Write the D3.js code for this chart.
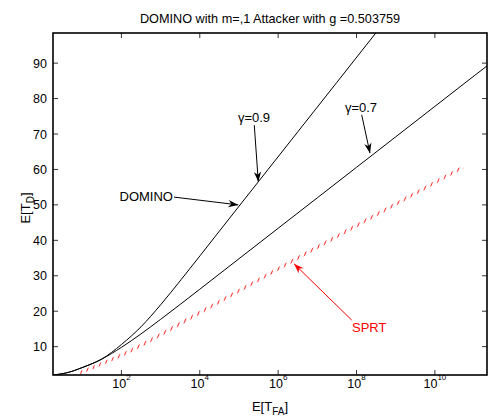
<!DOCTYPE html>
<html>
<head>
<meta charset="utf-8">
<script src="https://cdn.jsdelivr.net/npm/d3@7"></script>
<style>
  body { margin: 0; background: #fff; }
  svg text { font-family: "Liberation Sans", Arial, Helvetica, sans-serif; }
</style>
</head>
<body>
<div id="chart"></div>
<script>
// log10 of E[T_FA] and E[T_D] for each curve
const gamma09LogTfa = [0.254, 0.6, 1.0, 1.5, 2.0, 2.5, 3.0, 3.53, 4.5, 5.5, 6.5, 7.5, 8.6];
const gamma09Td     = [2.0, 2.6, 4.1, 6.5, 10.6, 15.6, 21.8, 29.0, 42.6, 56.6, 70.6, 84.6, 100.0];
const gamma07LogTfa = [0.254, 0.6, 1.0, 1.5, 2.0, 2.5, 3.0, 4.0, 5.0, 6.0, 7.0, 8.0, 9.0, 10.0, 11.0, 11.4];
const gamma07Td     = [2.0, 2.6, 4.1, 6.5, 9.8, 13.6, 17.7, 26.2, 34.8, 43.4, 52.0, 60.6, 69.2, 77.8, 86.4, 89.8];
const sprtLogTfa    = [0.94, 2.0, 4.0, 6.56, 10.72];
const sprtTd        = [2.6, 7.6, 19.6, 35.4, 60.7];

const xTickExps = [2, 4, 6, 8, 10];
const yTicks = [10, 20, 30, 40, 50, 60, 70, 80, 90];

// annotations: label position and arrow [from, to] in data units (log10 T_FA, T_D)
const annotations = [
  {text: "γ=0.9", at: [5.384, 73.4], anchor: "middle", from: [5.391, 72.5], to: [5.493, 56.5], color: "#000"},
  {text: "γ=0.7", at: [8.114, 76.2], anchor: "middle", from: [8.132, 75.4], to: [8.344, 64.6], color: "#000"},
  {text: "DOMINO", at: [3.316, 51.1], anchor: "end", from: [3.342, 52.2], to: [4.983, 50.0], color: "#000"},
  {text: "SPRT", at: [7.884, 14.0], anchor: "start", from: [7.877, 17.5], to: [6.404, 33.4], color: "#ff0000"}
];

const W = 489, H = 418;
const margin = {top: 33, right: 2, bottom: 43, left: 53};
const width = W - margin.left - margin.right;
const height = H - margin.top - margin.bottom;

const svg = d3.select("#chart").append("svg")
  .attr("width", W).attr("height", H);

const defs = svg.append("defs");
defs.append("clipPath").attr("id", "clip")
  .append("rect").attr("width", width).attr("height", height);

// hatch pattern gives the short slanted red strokes of the SPRT line
const hatch = defs.append("pattern")
  .attr("id", "hatch")
  .attr("patternUnits", "userSpaceOnUse")
  .attr("width", 5).attr("height", 20)
  .attr("patternTransform", "rotate(20)");
hatch.append("line")
  .attr("x1", 2.5).attr("x2", 2.5).attr("y1", -1).attr("y2", 21)
  .attr("stroke", "#ff3030").attr("stroke-width", 1.1);

["#000", "#ff0000"].forEach((c, i) => {
  defs.append("marker")
    .attr("id", "head" + i)
    .attr("viewBox", "-11 -5 12 10")
    .attr("refX", 0).attr("refY", 0)
    .attr("markerWidth", 12).attr("markerHeight", 10)
    .attr("markerUnits", "userSpaceOnUse")
    .attr("orient", "auto")
    .append("path")
    .attr("d", "M0,0 L-10,-3.6 L-7,0 L-10,3.6 Z")
    .attr("fill", c);
});

const g = svg.append("g").attr("transform", `translate(${margin.left},${margin.top})`);

const x = d3.scaleLog().domain([Math.pow(10, 0.254), Math.pow(10, 11.33)]).range([0, width]);
const y = d3.scaleLinear().domain([2, 98.5]).range([height, 0]);

const px = lg => x(Math.pow(10, lg));

// ticks (inward, on all four sides)
const axes = g.append("g").attr("stroke", "#000").attr("stroke-width", 0.8);
xTickExps.forEach(e => {
  const xx = px(e);
  axes.append("line").attr("x1", xx).attr("x2", xx).attr("y1", height).attr("y2", height - 5);
  axes.append("line").attr("x1", xx).attr("x2", xx).attr("y1", 0).attr("y2", 5);
});
yTicks.forEach(v => {
  const yy = y(v);
  axes.append("line").attr("x1", 0).attr("x2", 5).attr("y1", yy).attr("y2", yy);
  axes.append("line").attr("x1", width).attr("x2", width - 5).attr("y1", yy).attr("y2", yy);
});

// tick labels
xTickExps.forEach(e => {
  const t = g.append("text")
    .attr("x", px(e)).attr("y", height + 12.5)
    .attr("text-anchor", "middle")
    .attr("font-size", 12.5);
  t.append("tspan").text("10");
  t.append("tspan").attr("dy", -8).attr("font-size", 8).text(e);
});
yTicks.forEach(v => {
  g.append("text")
    .attr("x", -6).attr("y", y(v) + 4.5)
    .attr("text-anchor", "end")
    .attr("font-size", 12.5)
    .text(v);
});

// curves
const plot = g.append("g").attr("clip-path", "url(#clip)");
const line = d3.line().x(d => px(d[0])).y(d => y(d[1])).curve(d3.curveMonotoneX);

plot.append("path")
  .datum(d3.zip(gamma09LogTfa, gamma09Td))
  .attr("fill", "none").attr("stroke", "#000").attr("stroke-width", 1)
  .attr("d", line);
plot.append("path")
  .datum(d3.zip(gamma07LogTfa, gamma07Td))
  .attr("fill", "none").attr("stroke", "#000").attr("stroke-width", 1)
  .attr("d", line);
plot.append("path")
  .datum(d3.zip(sprtLogTfa, sprtTd))
  .attr("fill", "none").attr("stroke", "url(#hatch)").attr("stroke-width", 3)
  .attr("stroke-linecap", "butt")
  .attr("d", line);

// frame
g.append("rect")
  .attr("width", width).attr("height", height)
  .attr("fill", "none").attr("stroke", "#000").attr("stroke-width", 1.6);

// annotations
annotations.forEach(a => {
  g.append("line")
    .attr("x1", px(a.from[0])).attr("y1", y(a.from[1]))
    .attr("x2", px(a.to[0])).attr("y2", y(a.to[1]))
    .attr("stroke", a.color).attr("stroke-width", 1)
    .attr("marker-end", `url(#head${a.color === "#000" ? 0 : 1})`);
  g.append("text")
    .attr("x", px(a.at[0])).attr("y", y(a.at[1]))
    .attr("text-anchor", a.anchor)
    .attr("font-size", 13)
    .attr("fill", a.color)
    .text(a.text);
});

// title and axis labels
svg.append("text")
  .attr("x", margin.left + width / 2).attr("y", 22.5)
  .attr("text-anchor", "middle").attr("font-size", 12.7)
  .text("DOMINO with m=,1 Attacker with g =0.503759");

const xl = svg.append("text")
  .attr("x", margin.left + width / 2).attr("y", 411)
  .attr("text-anchor", "middle").attr("font-size", 13);
xl.append("tspan").text("E[T");
xl.append("tspan").attr("dy", 4).attr("font-size", 10).text("FA");
xl.append("tspan").attr("dy", -4).text("]");

const yl = svg.append("text")
  .attr("transform", `translate(30,${margin.top + height / 2 + 4}) rotate(-90)`)
  .attr("text-anchor", "middle").attr("font-size", 13);
yl.append("tspan").text("E[T");
yl.append("tspan").attr("dy", 4).attr("font-size", 10).text("D");
yl.append("tspan").attr("dy", -4).text("]");
</script>
</body>
</html>
